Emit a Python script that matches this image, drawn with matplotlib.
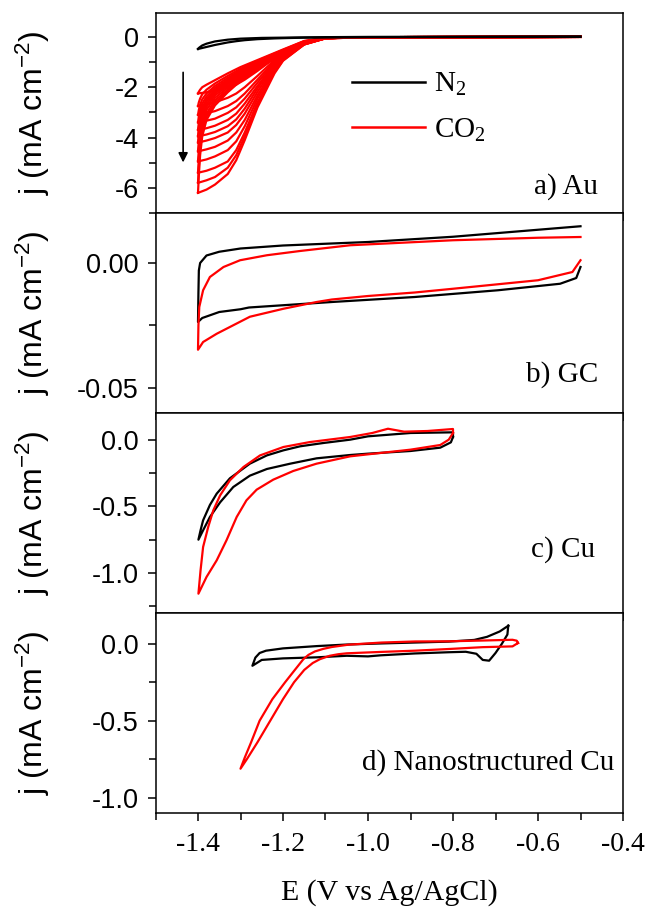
import matplotlib
matplotlib.use('Agg')
import matplotlib.pyplot as plt
from matplotlib.ticker import MultipleLocator, FormatStrFormatter

plt.rcParams['axes.unicode_minus'] = False
plt.rcParams['mathtext.default'] = 'regular'
plt.rcParams['lines.solid_joinstyle'] = 'round'

SANS = 'Liberation Sans'
SERIF = 'Liberation Serif'

# ---- a) Au ----
E_au_fwd = [-0.5, -1.0, -1.1, -1.15, -1.2, -1.22, -1.26, -1.29, -1.31, -1.33, -1.36, -1.38, -1.4]
E_au_rev = [-1.4, -1.398, -1.395, -1.39, -1.38, -1.36, -1.33, -1.3, -1.25, -1.2, -1.15, -1.1, -1.0, -0.5]

j_au_n2_fwd = [0.0, -0.01, -0.02, -0.03, -0.05, -0.06, -0.09, -0.13, -0.17, -0.22, -0.32, -0.4, -0.48]
j_au_n2_rev = [-0.48, -0.44, -0.4, -0.34, -0.27, -0.18, -0.11, -0.07, -0.04, -0.03, -0.02, -0.01, 0.0, 0.02]

j_au_co2_fwd = [
    [0.0, -0.01, -0.04, -0.20, -0.60, -0.85, -1.35, -1.70, -1.90, -2.00, -2.12, -2.20, -2.25],
    [0.0, -0.01, -0.04, -0.21, -0.65, -0.92, -1.55, -2.00, -2.25, -2.42, -2.60, -2.68, -2.75],
    [0.0, -0.01, -0.04, -0.22, -0.68, -0.98, -1.70, -2.25, -2.55, -2.75, -2.95, -3.03, -3.10],
    [0.0, -0.01, -0.04, -0.23, -0.72, -1.03, -1.82, -2.45, -2.80, -3.02, -3.25, -3.33, -3.40],
    [0.0, -0.01, -0.05, -0.24, -0.75, -1.08, -1.95, -2.65, -3.05, -3.30, -3.53, -3.63, -3.70],
    [0.0, -0.01, -0.05, -0.25, -0.78, -1.13, -2.05, -2.85, -3.28, -3.55, -3.78, -3.88, -3.95],
    [0.0, -0.01, -0.05, -0.26, -0.81, -1.18, -2.18, -3.05, -3.50, -3.80, -4.02, -4.12, -4.20],
    [0.0, -0.01, -0.05, -0.27, -0.84, -1.24, -2.32, -3.30, -3.80, -4.12, -4.37, -4.47, -4.55],
    [0.0, -0.01, -0.05, -0.28, -0.87, -1.30, -2.45, -3.55, -4.15, -4.50, -4.75, -4.87, -4.95],
    [0.0, -0.01, -0.05, -0.29, -0.90, -1.36, -2.60, -3.80, -4.50, -4.95, -5.20, -5.32, -5.40],
    [0.0, -0.01, -0.05, -0.30, -0.93, -1.40, -2.70, -3.95, -4.70, -5.20, -5.57, -5.70, -5.80],
    [0.0, -0.01, -0.05, -0.30, -0.95, -1.45, -2.80, -4.10, -4.90, -5.45, -5.87, -6.07, -6.20],
]
j_au_co2_rev = [
    [-2.25, -2.18, -2.10, -2.00, -1.90, -1.72, -1.45, -1.20, -0.85, -0.50, -0.16, -0.04, -0.01, 0.0],
    [-2.75, -2.60, -2.45, -2.28, -2.10, -1.85, -1.55, -1.27, -0.88, -0.52, -0.17, -0.04, -0.01, 0.0],
    [-3.10, -2.90, -2.70, -2.48, -2.25, -1.95, -1.63, -1.33, -0.91, -0.54, -0.18, -0.04, -0.01, 0.0],
    [-3.40, -3.15, -2.90, -2.65, -2.37, -2.03, -1.70, -1.38, -0.94, -0.56, -0.19, -0.04, -0.01, 0.0],
    [-3.70, -3.40, -3.10, -2.80, -2.48, -2.10, -1.76, -1.43, -0.97, -0.58, -0.20, -0.05, -0.01, 0.0],
    [-3.95, -3.60, -3.27, -2.93, -2.57, -2.17, -1.82, -1.48, -1.00, -0.60, -0.21, -0.05, -0.01, 0.0],
    [-4.20, -3.82, -3.45, -3.07, -2.67, -2.24, -1.88, -1.53, -1.03, -0.62, -0.22, -0.05, -0.01, 0.0],
    [-4.55, -4.10, -3.65, -3.22, -2.78, -2.32, -1.95, -1.58, -1.06, -0.64, -0.24, -0.05, -0.01, 0.0],
    [-4.95, -4.45, -3.90, -3.40, -2.90, -2.42, -2.02, -1.63, -1.09, -0.66, -0.25, -0.05, -0.01, 0.0],
    [-5.40, -4.85, -4.20, -3.60, -3.05, -2.52, -2.10, -1.68, -1.12, -0.68, -0.27, -0.06, -0.01, 0.0],
    [-5.80, -5.15, -4.45, -3.78, -3.18, -2.62, -2.15, -1.72, -1.14, -0.69, -0.28, -0.06, -0.01, 0.0],
    [-6.20, -5.50, -4.70, -3.95, -3.30, -2.72, -2.20, -1.75, -1.15, -0.70, -0.30, -0.06, -0.01, 0.0],
]

# ---- b) GC ----
E_gc_n2 = [-0.5, -0.51, -0.548, -0.694, -0.89, -1.085, -1.28, -1.3, -1.35, -1.39, -1.4,
           -1.399, -1.398, -1.395, -1.38, -1.35, -1.3, -1.2, -1.0, -0.8, -0.6, -0.5]
j_gc_n2 = [-0.0016, -0.006, -0.0083, -0.0109, -0.0136, -0.0156, -0.0178, -0.0185, -0.0196, -0.022, -0.0236,
           -0.012, -0.003, 0.0, 0.003, 0.0045, 0.0058, 0.007, 0.0084, 0.0105, 0.0133, 0.0147]
E_gc_co2 = [-0.5, -0.519, -0.6, -0.694, -0.8, -0.89, -1.0, -1.085, -1.121, -1.199, -1.278, -1.317,
            -1.356, -1.388, -1.4,
            -1.399, -1.397, -1.388, -1.372, -1.34, -1.301, -1.238, -1.16, -1.042, -0.8, -0.6, -0.5]
j_gc_co2 = [0.0011, -0.0036, -0.0069, -0.0085, -0.0103, -0.0118, -0.0132, -0.0146, -0.0156, -0.0183, -0.0215, -0.0249,
            -0.0283, -0.0316, -0.0347,
            -0.025, -0.0176, -0.0109, -0.0056, -0.0016, 0.0011, 0.0031, 0.0048, 0.0071, 0.0091, 0.0101, 0.0104]

# ---- c) Cu ----
E_cu_n2 = [-0.8, -0.805, -0.83, -0.9, -1.0, -1.042, -1.121, -1.183, -1.238, -1.278, -1.317, -1.348, -1.372, -1.388, -1.399,
           -1.394, -1.388, -1.372, -1.356, -1.325, -1.278, -1.238, -1.199, -1.16, -1.105, -1.042, -1.0, -0.9, -0.8, -0.8]
j_cu_n2 = [0.02, -0.02, -0.06, -0.085, -0.105, -0.115, -0.14, -0.18, -0.22, -0.27, -0.355, -0.47, -0.58, -0.68, -0.75,
           -0.68, -0.605, -0.49, -0.405, -0.29, -0.18, -0.118, -0.08, -0.05, -0.025, 0.0, 0.025, 0.05, 0.055, 0.02]
E_cu_co2 = [-0.8, -0.81, -0.83, -0.9, -1.0, -1.042, -1.121, -1.176, -1.223, -1.262, -1.286, -1.309, -1.333, -1.356, -1.38, -1.399,
            -1.394, -1.388, -1.376, -1.364, -1.348, -1.325, -1.293, -1.254, -1.199, -1.137, -1.042, -0.99, -0.953, -0.915, -0.86, -0.8, -0.8]
j_cu_co2 = [0.05, 0.0, -0.04, -0.075, -0.11, -0.125, -0.18, -0.235, -0.3, -0.375, -0.455, -0.58, -0.755, -0.905, -1.03, -1.155,
            -0.98, -0.805, -0.655, -0.53, -0.418, -0.305, -0.205, -0.118, -0.055, -0.018, 0.02, 0.05, 0.082, 0.06, 0.065, 0.08, 0.05]

# ---- d) Nanostructured Cu ----
E_nc_n2 = [-0.67, -0.672, -0.685, -0.70, -0.715, -0.73, -0.745, -0.77, -0.81, -0.89, -0.97, -1.0, -1.05, -1.12, -1.2, -1.25, -1.272,
           -1.265, -1.255, -1.24, -1.2, -1.12, -1.05, -0.97, -0.89, -0.81, -0.75, -0.72, -0.69, -0.67]
j_nc_n2 = [0.117, 0.06, 0.0, -0.06, -0.11, -0.105, -0.065, -0.052, -0.055, -0.063, -0.075, -0.082, -0.078, -0.088, -0.095, -0.105, -0.143,
           -0.09, -0.06, -0.045, -0.03, -0.015, -0.005, 0.002, 0.008, 0.014, 0.025, 0.045, 0.08, 0.117]
E_nc_co2 = [-0.647, -0.66, -0.73, -0.81, -0.89, -0.97, -1.05, -1.07, -1.09, -1.113, -1.13, -1.15, -1.174, -1.2, -1.23, -1.26, -1.285, -1.3,
            -1.29, -1.275, -1.255, -1.225, -1.195, -1.175, -1.152, -1.14, -1.125, -1.105, -1.085, -1.046, -0.968, -0.889, -0.81, -0.73, -0.66, -0.65, -0.647]
j_nc_co2 = [0.005, -0.017, -0.022, -0.034, -0.045, -0.053, -0.062, -0.068, -0.078, -0.1, -0.125, -0.17, -0.25, -0.36, -0.5, -0.64, -0.75, -0.812,
            -0.74, -0.64, -0.5, -0.36, -0.25, -0.18, -0.1, -0.072, -0.05, -0.033, -0.021, -0.006, 0.008, 0.015, 0.016, 0.021, 0.026, 0.02, 0.005]

panel_labels = ['a) Au', 'b) GC', 'c) Cu', 'd) Nanostructured Cu']
ylims = [(-7, 0.95), (-0.06, 0.02), (-1.3, 0.2), (-1.1, 0.2)]
ymajor = [2, 0.05, 0.5, 0.5]
yminor = [1, 0.025, 0.25, 0.25]
yfmt = ['%d', '%.2f', '%.1f', '%.1f']
label_pos = [(0.947, 0.13), (0.947, 0.19), (0.94, 0.315), (0.981, 0.25)]

W, H = 648, 913
fig = plt.figure(figsize=(W / 100, H / 100), dpi=100)
left, width = 155.5 / W, 467.5 / W
ph = 200 / H
axes = []
for i in range(4):
    bottom = (H - 13 - 200 * (i + 1)) / H
    axes.append(fig.add_axes([left, bottom, width, ph]))

lw = 1.6
ax = axes[0]
for jf, jr in zip(j_au_co2_fwd, j_au_co2_rev):
    ax.plot(E_au_fwd, jf, color='red', lw=lw)
    ax.plot(E_au_rev, jr, color='red', lw=lw)
ax.plot(E_au_fwd, j_au_n2_fwd, color='black', lw=lw)
ax.plot(E_au_rev, j_au_n2_rev, color='black', lw=lw)
ax.annotate('', xy=(-1.435, -5.1), xytext=(-1.435, -1.3),
            arrowprops=dict(arrowstyle='-|>', color='black', lw=1.2, mutation_scale=14))
h1, = ax.plot([], [], color='black', lw=1.8, label='N$_2$')
h2, = ax.plot([], [], color='red', lw=1.8, label='CO$_2$')
ax.legend(handles=[h1, h2], loc='upper left', bbox_to_anchor=(0.365, 0.84), frameon=False,
          prop={'family': SERIF, 'size': 21}, handlelength=2.5, labelspacing=0.62, handletextpad=0.3)

axes[1].plot(E_gc_n2, j_gc_n2, color='black', lw=lw)
axes[1].plot(E_gc_co2, j_gc_co2, color='red', lw=lw)
axes[2].plot(E_cu_n2, j_cu_n2, color='black', lw=lw)
axes[2].plot(E_cu_co2, j_cu_co2, color='red', lw=lw)
axes[3].plot(E_nc_n2, j_nc_n2, color='black', lw=lw)
axes[3].plot(E_nc_co2, j_nc_co2, color='red', lw=lw)

for i, ax in enumerate(axes):
    ax.set_xlim(-1.5, -0.4)
    ax.set_ylim(*ylims[i])
    ax.xaxis.set_major_locator(MultipleLocator(0.2))
    ax.xaxis.set_minor_locator(MultipleLocator(0.1))
    ax.yaxis.set_major_locator(MultipleLocator(ymajor[i]))
    ax.yaxis.set_minor_locator(MultipleLocator(yminor[i]))
    ax.yaxis.set_major_formatter(FormatStrFormatter(yfmt[i]))
    ax.tick_params(axis='both', which='both', direction='out', width=1.1)
    ax.tick_params(axis='both', which='major', length=6)
    ax.tick_params(axis='both', which='minor', length=5)
    ax.tick_params(axis='y', labelsize=19.5, pad=6)
    ax.tick_params(axis='x', labelsize=20, pad=8)
    for lab in ax.get_yticklabels():
        lab.set_fontfamily(SANS)
    for lab in ax.get_xticklabels():
        lab.set_fontfamily(SERIF)
    for s in ax.spines.values():
        s.set_linewidth(1.1)
    if i < 3:
        ax.tick_params(axis='x', labelbottom=False)
    ax.set_ylabel('j (mA cm$^{-2}$)', fontfamily=SANS, fontsize=23, va='center')
    ax.yaxis.set_label_coords(-0.262, 0.5)
    ax.text(label_pos[i][0], label_pos[i][1], panel_labels[i], transform=ax.transAxes,
            ha='right', va='center', fontfamily=SERIF, fontsize=21)

axes[3].set_xlabel('E (V vs Ag/AgCl)', fontfamily=SERIF, fontsize=21.5, va='center')
axes[3].xaxis.set_label_coords(0.5, -0.4)

fig.savefig('out.png', dpi=100)
